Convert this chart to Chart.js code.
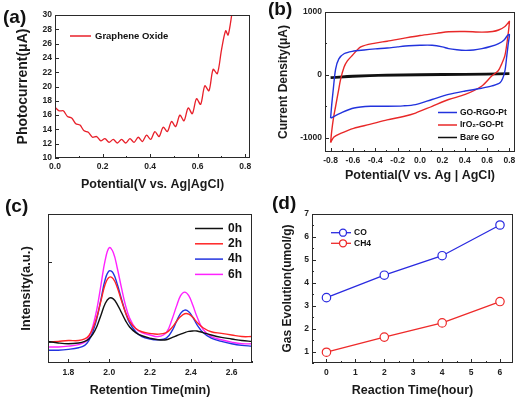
<!DOCTYPE html>
<html>
<head>
<meta charset="utf-8">
<script src="https://cdn.jsdelivr.net/npm/chart.js@4.4.0/dist/chart.umd.min.js"></script>
<style>
  body { margin: 0; background: #fff; }
  #fig { position: relative; width: 526px; height: 405px; overflow: hidden; font-family: "Liberation Sans", Arial, sans-serif; }
  #fig canvas { position: absolute; }
  .tag { position: absolute; font-weight: bold; font-size: 19px; line-height: 19px; color: #111; }
</style>
</head>
<body>
<div id="fig">
  <canvas id="chartA" width="263" height="200" style="left:0;top:0"></canvas>
  <canvas id="chartB" width="263" height="200" style="left:263px;top:0"></canvas>
  <canvas id="chartC" width="263" height="205" style="left:0;top:200px"></canvas>
  <canvas id="chartD" width="263" height="205" style="left:263px;top:200px"></canvas>
  <div class="tag" style="left:3px;top:7px">(a)</div>
  <div class="tag" style="left:268px;top:-1px">(b)</div>
  <div class="tag" style="left:5px;top:196px">(c)</div>
  <div class="tag" style="left:272px;top:193px">(d)</div>
</div>
<script>
// --- (a) photocurrent vs potential ---
const aVolt = [0, 0.0175, 0.035, 0.0525, 0.07, 0.0875, 0.105, 0.1225, 0.14, 0.1575, 0.175, 0.1925,
  0.21, 0.2275, 0.245, 0.2625, 0.28, 0.2975, 0.315, 0.3325, 0.35, 0.3675, 0.385, 0.4025, 0.42,
  0.4375, 0.455, 0.4725, 0.49, 0.5075, 0.525, 0.5425, 0.56, 0.5775, 0.595, 0.6125, 0.63, 0.6475,
  0.665, 0.6825, 0.70, 0.7175, 0.728, 0.745];
const aCurrent = [17.1, 16.6, 16.6, 15.8, 15.6, 14.8, 14.6, 13.8, 13.6, 12.9, 13.0, 12.4,
  12.7, 12.2, 12.6, 12.1, 12.6, 12.1, 12.7, 12.2, 12.9, 12.3, 13.2, 12.6, 13.7,
  13.0, 14.3, 13.7, 15.1, 14.4, 16.0, 15.2, 17.0, 16.2, 18.3, 17.5, 20.1, 19.4,
  22.4, 21.8, 25.1, 27.8, 27.2, 30.4];
const aTicksX = [0, 0.2, 0.4, 0.6, 0.8];
const aTicksY = [10, 12, 14, 16, 18, 20, 22, 24, 26, 28, 30];

// --- (b) cyclic voltammograms (closed loops) ---
const rgoV = [-0.80, -0.79, -0.776, -0.755, -0.726, -0.68, -0.606, -0.5, -0.4, -0.294, -0.2, -0.1, 0.0,
  0.108, 0.2, 0.256, 0.33, 0.405, 0.48, 0.554, 0.63, 0.703, 0.75, 0.786, 0.80,
  0.79, 0.777, 0.757, 0.718, 0.644, 0.55, 0.405, 0.256, 0.108, -0.04, -0.15, -0.294, -0.44, -0.59, -0.71, -0.80];
const rgoI = [-691, -480, -232, 92, 254, 335, 373, 395, 412, 427, 445, 462, 470,
  470, 445, 416, 398, 389, 395, 416, 450, 497, 550, 632, 640,
  500, 308, 38, -124, -178, -215, -259, -313, -394, -475, -495, -502, -502, -529, -610, -691];
const irV = [-0.80, -0.79, -0.775, -0.755, -0.73, -0.71, -0.68, -0.65, -0.606, -0.53, -0.4, -0.294, -0.15, 0.0,
  0.15, 0.256, 0.4, 0.554, 0.65, 0.703, 0.76, 0.79, 0.80,
  0.785, 0.76, 0.73, 0.70, 0.644, 0.554, 0.405, 0.256, 0.108, -0.04, -0.148, -0.294, -0.45, -0.594, -0.71, -0.77, -0.80];
const irI = [-1080, -900, -700, -502, -260, -70, 120, 220, 308, 443, 505, 534, 580, 625,
  660, 686, 690, 680, 690, 713, 770, 830, 850,
  600, 308, 170, 65, -16, -178, -313, -394, -502, -610, -664, -718, -790, -853, -934, -990, -1080];
const bareV = [-0.80, -0.6, -0.3, 0.0, 0.4, 0.8, 0.4, 0.0, -0.4, -0.8];
const bareI = [-45, -22, -6, 3, 9, 16, 6, -1, -12, -45];
const bTicksX = [-0.8, -0.6, -0.4, -0.2, 0.0, 0.2, 0.4, 0.6, 0.8];
const bTicksY = [-1000, 0, 1000];

// --- (c) chromatograms ---
const cTime = [1.70, 1.75, 1.80, 1.85, 1.88, 1.90, 1.92, 1.94, 1.96, 1.98, 2.00, 2.02, 2.04, 2.06, 2.08,
  2.10, 2.13, 2.16, 2.20, 2.24, 2.28, 2.31, 2.33, 2.35, 2.37, 2.39, 2.41, 2.43, 2.46, 2.50, 2.55, 2.60, 2.65, 2.70];
const c0h = [0.01, -0.01, -0.02, -0.01, 0.01, 0.04, 0.10, 0.20, 0.34, 0.48, 0.55, 0.54, 0.47, 0.37, 0.27,
  0.19, 0.12, 0.08, 0.05, 0.03, 0.03, 0.06, 0.08, 0.10, 0.12, 0.135, 0.14, 0.14, 0.12, 0.09, 0.06, 0.04, 0.02, 0.01];
const c2h = [0.0, 0.01, 0.02, 0.02, 0.04, 0.08, 0.17, 0.32, 0.52, 0.72, 0.81, 0.79, 0.68, 0.52, 0.37,
  0.26, 0.17, 0.13, 0.11, 0.10, 0.12, 0.19, 0.26, 0.32, 0.355, 0.35, 0.31, 0.25, 0.18, 0.13, 0.11, 0.09, 0.07, 0.07];
const c4h = [-0.10, -0.10, -0.09, -0.07, -0.04, 0.02, 0.13, 0.30, 0.54, 0.78, 0.89, 0.86, 0.72, 0.54, 0.37,
  0.24, 0.13, 0.07, 0.04, 0.03, 0.05, 0.15, 0.26, 0.36, 0.40, 0.38, 0.31, 0.22, 0.12, 0.05, 0.01, -0.02, -0.04, -0.05];
const c6h = [-0.06, -0.06, -0.05, -0.03, 0.0, 0.06, 0.20, 0.42, 0.72, 1.02, 1.18, 1.12, 0.92, 0.68, 0.46,
  0.30, 0.17, 0.12, 0.09, 0.07, 0.12, 0.30, 0.45, 0.58, 0.625, 0.58, 0.46, 0.32, 0.16, 0.07, 0.03, 0.0, -0.02, -0.02];
const cTicksX = [1.8, 2.0, 2.2, 2.4, 2.6];
const cTicksY = [0, 1];

// --- (d) gas evolution ---
const dHours = [0, 2, 4, 6];
const dCO = [3.35, 4.33, 5.18, 6.52];
const dCH4 = [0.97, 1.63, 2.25, 3.18];
const dTicksX = [0, 1, 2, 3, 4, 5, 6];
const dTicksY = [1, 2, 3, 4, 5, 6, 7];

const FONT = '"Liberation Sans", Arial, sans-serif';
Chart.defaults.font.family = FONT;
Chart.defaults.font.weight = 'bold';
Chart.defaults.color = '#1a1a1a';
Chart.defaults.animation = false;

const zip = (xs, ys) => xs.map((x, i) => ({ x: x, y: ys[i] }));

// frame + inward major/minor ticks
const boxTicks = {
  id: 'boxTicks',
  afterDatasetsDraw(chart) {
    const { ctx, chartArea: a } = chart;
    ctx.save();
    ctx.strokeStyle = '#2a2a2a';
    ctx.lineWidth = 1;
    ctx.strokeRect(Math.round(a.left) + 0.5, Math.round(a.top) + 0.5, Math.round(a.width) - 1, Math.round(a.height) - 1);
    const mark = (s, vals, len) => {
      vals.forEach(v => {
        const p = Math.round(s.getPixelForValue(v)) + 0.5;
        ctx.beginPath();
        if (s.isHorizontal()) { ctx.moveTo(p, a.bottom); ctx.lineTo(p, a.bottom - len); }
        else { ctx.moveTo(a.left, p); ctx.lineTo(a.left + len, p); }
        ctx.stroke();
      });
    };
    [chart.scales.x, chart.scales.y].forEach(s => {
      const major = s.ticks.map(t => t.value);
      const minor = [];
      if (s.options.minorTicks !== false && major.length > 1) {
        const step = major[1] - major[0];
        for (let i = 0; i < major.length - 1; i++) minor.push((major[i] + major[i + 1]) / 2);
        if (major[0] - step / 2 >= s.min - 1e-9) minor.push(major[0] - step / 2);
        const last = major[major.length - 1];
        if (last + step / 2 <= s.max + 1e-9) minor.push(last + step / 2);
      }
      mark(s, major, 4);
      mark(s, minor, 2);
    });
    ctx.restore();
  }
};

// legend drawn inside the plot, from the datasets
const insideLegend = {
  id: 'insideLegend',
  afterDraw(chart, args, o) {
    if (o.x === undefined) return;
    const ctx = chart.ctx;
    ctx.save();
    ctx.font = 'bold ' + o.size + 'px ' + FONT;
    ctx.textBaseline = 'middle';
    chart.data.datasets.forEach((ds, i) => {
      const y = o.y + i * o.rowH;
      ctx.strokeStyle = ds.borderColor;
      ctx.lineWidth = o.lineWidth;
      ctx.beginPath(); ctx.moveTo(o.x, y); ctx.lineTo(o.x + o.len, y); ctx.stroke();
      if (o.marker) {
        ctx.beginPath();
        ctx.arc(o.x + o.len * 0.6, y, o.marker, 0, Math.PI * 2);
        ctx.fillStyle = '#fff'; ctx.fill(); ctx.stroke();
      }
      ctx.fillStyle = '#111';
      ctx.fillText(ds.label, o.x + o.len + o.gap, y);
    });
    ctx.restore();
  }
};
Chart.register(boxTicks, insideLegend);

function axis(cfg) {
  return {
    type: 'linear',
    min: cfg.min, max: cfg.max,
    minorTicks: cfg.minor !== false,
    grid: { display: false, drawTicks: false },
    border: { display: false },
    afterBuildTicks: s => { s.ticks = cfg.ticks.map(v => ({ value: v })); },
    afterFit: s => {
      if (s.isHorizontal()) s.height = cfg.size; else s.width = cfg.size;
      s.paddingLeft = s.paddingRight = s.paddingTop = s.paddingBottom = 0;
    },
    ticks: {
      display: cfg.labels !== false,
      padding: cfg.pad || 3,
      font: { size: cfg.tickSize || 8.5, weight: 'bold' },
      color: '#222',
      maxRotation: 0,
      autoSkip: false,
      callback: cfg.fmt || (v => v)
    },
    title: { display: true, text: cfg.title, padding: 0, font: { size: cfg.titleSize || 12.5, weight: 'bold' }, color: '#1a1a1a' }
  };
}

function baseOptions(pad, scales, legend) {
  return {
    responsive: false,
    animation: false,
    layout: { padding: pad },
    scales: scales,
    plugins: { legend: { display: false }, tooltip: { enabled: false }, insideLegend: legend }
  };
}

const fmt1 = v => Number(v).toFixed(1);

// (a)
new Chart(document.getElementById('chartA'), {
  type: 'line',
  data: { datasets: [{ label: 'Graphene Oxide', data: zip(aVolt, aCurrent), borderColor: '#e8202a', borderWidth: 1.3, pointRadius: 0, tension: 0.3 }] },
  options: baseOptions({ left: 15, top: 15, right: 13, bottom: 8 }, {
    x: axis({ min: 0, max: 0.82, ticks: aTicksX, size: 34, pad: 4, tickSize: 8.5, fmt: fmt1, title: 'Potential(V vs. Ag|AgCl)', titleSize: 12.5 }),
    y: axis({ min: 10, max: 30, ticks: aTicksY, size: 40, tickSize: 8.5, minor: false, title: 'Photocurrent(\u03bcA)', titleSize: 14 })
  }, { x: 70, y: 36, len: 21, gap: 4, rowH: 12, size: 9.5, lineWidth: 1.5 })
});

// (b)
new Chart(document.getElementById('chartB'), {
  type: 'scatter',
  data: { datasets: [
    { label: 'GO-RGO-Pt', data: zip(rgoV, rgoI), borderColor: '#2233dd', borderWidth: 1.4, showLine: true, pointRadius: 0, tension: 0.3 },
    { label: 'IrO\u2082-GO-Pt', data: zip(irV, irI), borderColor: '#e82828', borderWidth: 1.4, showLine: true, pointRadius: 0, tension: 0.3 },
    { label: 'Bare GO', data: zip(bareV, bareI), borderColor: '#111111', borderWidth: 2.6, showLine: true, pointRadius: 0, tension: 0.2 }
  ] },
  options: baseOptions({ left: 13, top: 12, right: 11, bottom: 17 }, {
    x: axis({ min: -0.85, max: 0.85, ticks: bTicksX, size: 31, pad: 4, tickSize: 8.5, fmt: fmt1, title: 'Potential(V vs. Ag | AgCl)', titleSize: 12.5 }),
    y: axis({ min: -1230, max: 1000, ticks: bTicksY, size: 49, tickSize: 8.5, title: 'Current Density(\u03bcA)', titleSize: 12 })
  }, { x: 175, y: 112.5, len: 19, gap: 3, rowH: 12.5, size: 8.5, lineWidth: 1.5 })
});

// (c)
new Chart(document.getElementById('chartC'), {
  type: 'line',
  data: { datasets: [
    { label: '0h', data: zip(cTime, c0h), borderColor: '#111111', borderWidth: 1.4, pointRadius: 0, tension: 0.4 },
    { label: '2h', data: zip(cTime, c2h), borderColor: '#ff2424', borderWidth: 1.4, pointRadius: 0, tension: 0.4 },
    { label: '4h', data: zip(cTime, c4h), borderColor: '#2233e0', borderWidth: 1.4, pointRadius: 0, tension: 0.4 },
    { label: '6h', data: zip(cTime, c6h), borderColor: '#ff22ff', borderWidth: 1.4, pointRadius: 0, tension: 0.4 }
  ] },
  options: baseOptions({ left: 19, top: 14, right: 11, bottom: 7 }, {
    x: axis({ min: 1.7, max: 2.7, ticks: cTicksX, size: 35, pad: 5, tickSize: 8.5, fmt: fmt1, title: 'Retention Time(min)', titleSize: 12.5 }),
    y: axis({ min: -0.26, max: 1.6, ticks: cTicksY, size: 29, labels: false, minor: false, title: 'Intensity(a.u.)', titleSize: 13 })
  }, { x: 195, y: 28.5, len: 28, gap: 5, rowH: 15.3, size: 12, lineWidth: 1.5 })
});

// (d)
new Chart(document.getElementById('chartD'), {
  type: 'line',
  data: { datasets: [
    { label: 'CO', data: zip(dHours, dCO), borderColor: '#2a2ae0', backgroundColor: '#fff', borderWidth: 1.3, pointRadius: 4.2, pointBorderWidth: 1.2, pointBackgroundColor: '#fff', tension: 0 },
    { label: 'CH4', data: zip(dHours, dCH4), borderColor: '#ee2a2a', backgroundColor: '#fff', borderWidth: 1.3, pointRadius: 4.2, pointBorderWidth: 1.2, pointBackgroundColor: '#fff', tension: 0 }
  ] },
  options: baseOptions({ left: 17, top: 14, right: 13, bottom: 7 }, {
    x: axis({ min: -0.5, max: 6.45, ticks: dTicksX, size: 35, pad: 5, tickSize: 8.5, title: 'Reaction Time(hour)', titleSize: 12.5 }),
    y: axis({ min: 0.5, max: 7, ticks: dTicksY, size: 32, tickSize: 8.5, title: 'Gas Evolution(umol/g)', titleSize: 12 })
  }, { x: 68, y: 32.7, len: 20, gap: 3, rowH: 10.6, size: 8.5, lineWidth: 1.3, marker: 3.5 })
});
</script>
</body>
</html>
